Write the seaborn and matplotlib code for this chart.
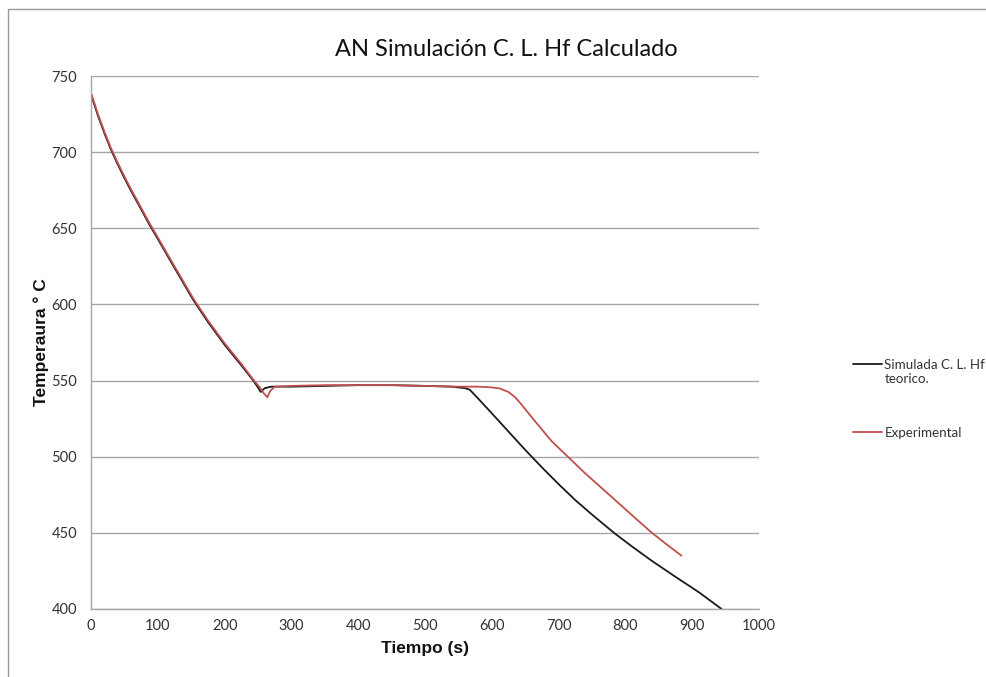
import matplotlib
matplotlib.use("Agg")
import matplotlib.pyplot as plt
from matplotlib.patches import Rectangle
import seaborn as sns
import pandas as pd

# ---- data ----
sim_t = [0, 10, 20, 30, 40, 50, 60, 75, 88, 100, 125, 153, 175, 200, 225, 242, 250, 254,
         260, 270, 300, 350, 400, 450, 500, 540, 560, 567, 580, 600, 625, 650, 675, 700,
         725, 750, 783, 810, 840, 872, 910, 944]
sim_T = [738, 724.5, 712.5, 701.5, 692, 683, 674.5, 662.5, 652, 643, 624, 603, 588.5, 573.5,
         560, 550.5, 545.5, 542.5, 545, 546, 546, 546.5, 547, 547, 546.5, 546, 545, 544,
         538, 528.5, 516.5, 504.5, 493, 482, 471.5, 462, 450, 441, 431.5, 422, 411, 400]
exp_t = [0, 10, 20, 30, 40, 50, 60, 75, 88, 100, 125, 153, 175, 200, 225, 244, 252, 258,
         264, 268, 275, 300, 350, 400, 450, 500, 550, 580, 600, 612, 625, 635, 645, 655,
         670, 690, 715, 740, 772, 800, 837, 860, 884]
exp_T = [739, 725.5, 713.5, 702.5, 693, 684, 675.5, 663.5, 653, 644, 625, 604, 589.5, 574.5,
         561, 550, 546, 542, 539, 543, 546, 546.5, 547, 547, 547, 546.5, 546, 546, 545.5,
         544.8, 542.5, 539, 534, 528.5, 520.5, 510, 499.5, 489, 476.5, 465.5, 451, 443, 435]
series_names = ["Simulada C. L. Hf\nteorico.", "Experimental"]
series_colors = ["#1a1a1a", "#c0504d"]

x_ticks = list(range(0, 1001, 100))
y_ticks = list(range(400, 751, 50))

df = pd.concat([
    pd.DataFrame({"t": sim_t, "T": sim_T, "serie": series_names[0]}),
    pd.DataFrame({"t": exp_t, "T": exp_T, "serie": series_names[1]}),
], ignore_index=True)

sns.set_theme(style="white")
plt.rcParams["font.family"] = ["Lato", "DejaVu Sans"]

W, H = 987, 677
fig = plt.figure(figsize=(W / 100, H / 100), dpi=100)
fig.patches.append(Rectangle((8 / W, -0.05), 1.0, 1 - 9 / H + 0.05,
                             transform=fig.transFigure, fill=False,
                             edgecolor="#9a9a9a", linewidth=1.0, zorder=0))
ax = fig.add_axes([91 / W, 1 - 609 / H, (759 - 91) / W, (609 - 76) / H])

sns.lineplot(data=df, x="t", y="T", hue="serie", palette=dict(zip(series_names, series_colors)),
             sort=False, estimator=None, linewidth=1.3, ax=ax, legend=False)

ax.set_xlim(0, 1000)
ax.set_ylim(400, 750)
ax.set_xticks(x_ticks)
ax.set_yticks(y_ticks)
ax.yaxis.grid(True, color="#a6a6a6", linewidth=1.0)
ax.xaxis.grid(False)
for s in ["top", "right"]:
    ax.spines[s].set_visible(False)
for s in ["left", "bottom"]:
    ax.spines[s].set_color("#a6a6a6")
    ax.spines[s].set_linewidth(1.0)
ax.tick_params(axis="both", which="major", direction="out", length=3.5, width=1,
               color="#a6a6a6", labelsize=10.5, labelcolor="#333333")
ax.tick_params(axis="y", pad=6.5)
ax.tick_params(axis="x", pad=3.5)

ax.set_xlabel("Tiempo (s)", fontsize=12.5, fontweight="bold", family=["Liberation Sans", "DejaVu Sans"],
              color="#111111", labelpad=6)
ax.set_ylabel("Temperaura ° C", fontsize=12.5, fontweight="bold", family=["Liberation Sans", "DejaVu Sans"],
              color="#111111", labelpad=1.5)

fig.text(506 / W, 1 - 49 / H, "AN Simulación C. L. Hf Calculado", ha="center", va="center",
         fontsize=17, color="#111111")

handles = ax.get_lines()[:2]
first_labels = [n.split("\n")[0] for n in series_names]
leg = fig.legend(handles, first_labels, loc="upper left", bbox_to_anchor=(853 / W, 1 - 359 / H),
                 frameon=False, fontsize=9.6, handlelength=2.2, handletextpad=0.15,
                 borderpad=0, borderaxespad=0, labelspacing=4.2, labelcolor="#333333")
fig.canvas.draw()
bb = leg.get_texts()[0].get_window_extent()
fig.text(bb.x0 / W, (bb.y0 - 2) / H, series_names[0].split("\n")[1], ha="left", va="top",
         fontsize=9.6, color="#333333")

fig.savefig("out.png", dpi=100)
